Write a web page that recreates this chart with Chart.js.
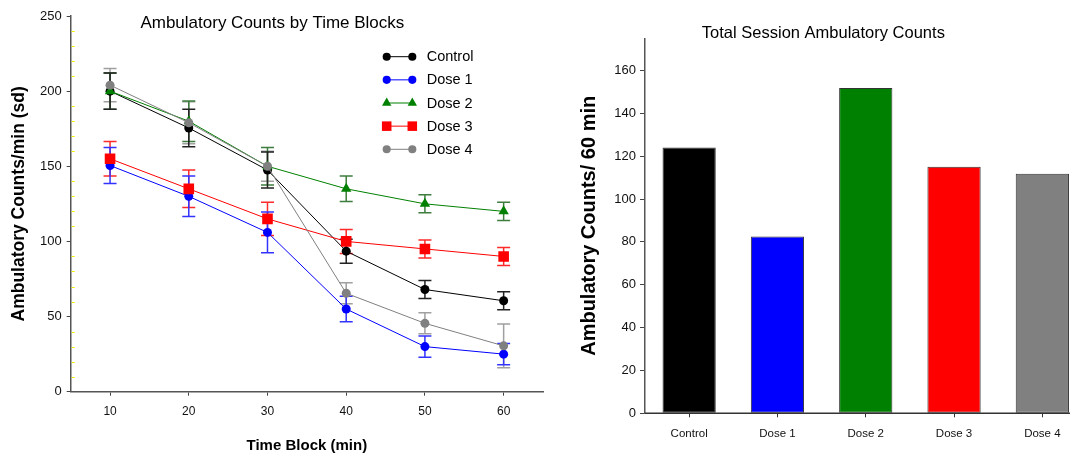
<!DOCTYPE html>
<html>
<head>
<meta charset="utf-8">
<script src="https://cdn.jsdelivr.net/npm/chart.js@4.4.0/dist/chart.umd.min.js"></script>
<style>
html, body { margin: 0; padding: 0; background: #fff; overflow: hidden; }
#wrap { position: relative; width: 1076px; height: 458px; overflow: hidden; }
#time-chart { position: absolute; left: 0; top: 0; }
#total-chart { position: absolute; left: 560px; top: 0; }
</style>
</head>
<body>
<div id="wrap">
  <canvas id="time-chart" width="560" height="458"></canvas>
  <canvas id="total-chart" width="560" height="458"></canvas>
</div>
<script>
// data
const timeBlocks = [10, 20, 30, 40, 50, 60]
const groups = ['Control', 'Dose 1', 'Dose 2', 'Dose 3', 'Dose 4']

const controlMeans = [200, 175.5, 147.5, 93.5, 68, 60.5]
const controlSd = [12, 12.5, 12, 8, 6, 6]
const dose1Means = [150.5, 130, 106, 55, 30, 25]
const dose1Sd = [12, 13.5, 13.5, 8.5, 7, 7]
const dose2Means = [200, 180, 150, 135, 125, 120]
const dose2Sd = [12, 13.5, 12.5, 8.5, 6, 6]
const dose3Means = [155, 135, 115, 100, 95, 90]
const dose3Sd = [11.5, 12.5, 11, 8, 6, 6]
const dose4Means = [204, 179, 150, 65.5, 45.5, 30.5]
const dose4Sd = [11, 14, 10, 7, 7, 14.5]

const sessionTotals = [124, 82.5, 151.8, 115, 111.8]

const timeYTicks = [0, 50, 100, 150, 200, 250]
const totalYTicks = [0, 20, 40, 60, 80, 100, 120, 140, 160]

const groupColors = ['#000000', '#0000ff', '#008000', '#ff0000', '#808080']
const groupErrColors = ['#222222', '#3333ff', '#3d7d3d', '#ff2a2a', '#a0a0a0']
const groupMarkers = ['circle', 'circle', 'triangle', 'rect', 'circle']
const groupRadius = [4.5, 4.5, 6, 7.5, 4.5]

Chart.defaults.font.family = '"Liberation Sans", Arial, sans-serif'
Chart.defaults.color = '#111'

const allMeans = [controlMeans, dose1Means, dose2Means, dose3Means, dose4Means]
const allSd = [controlSd, dose1Sd, dose2Sd, dose3Sd, dose4Sd]

// error bars, drawn under the lines
const errorBars = {
    id: 'errorBars',
    beforeDatasetsDraw(chart) {
        const ctx = chart.ctx
        const xs = chart.scales.x, ys = chart.scales.y
        chart.data.datasets.slice().reverse().forEach(ds => {
            ctx.save()
            ctx.strokeStyle = ds.errorColor
            ctx.lineWidth = 1.5
            ds.data.forEach((p, i) => {
                const x = xs.getPixelForValue(p.x)
                const top = ys.getPixelForValue(p.y + ds.sd[i])
                const bot = ys.getPixelForValue(p.y - ds.sd[i])
                ctx.beginPath()
                ctx.moveTo(x, top); ctx.lineTo(x, bot)
                ctx.moveTo(x - 6.5, top); ctx.lineTo(x + 6.5, top)
                ctx.moveTo(x - 6.5, bot); ctx.lineTo(x + 6.5, bot)
                ctx.stroke()
            })
            ctx.restore()
        })
    }
}

// small yellow minor ticks on the inside of the y axis
const minorTicks = {
    id: 'minorTicks',
    afterDraw(chart) {
        const ctx = chart.ctx
        const ys = chart.scales.y
        const x = chart.chartArea.left
        ctx.save()
        ctx.strokeStyle = '#f0f000'
        ctx.lineWidth = 1
        for (let v = 10; v < ys.max; v += 10) {
            if (v % 50 === 0) continue
            const y = Math.round(ys.getPixelForValue(v)) + 0.5
            ctx.beginPath()
            ctx.moveTo(x + 1, y); ctx.lineTo(x + 4, y)
            ctx.stroke()
        }
        ctx.restore()
    }
}

// title drawn over the plot area, like the original
const innerTitle = {
    id: 'innerTitle',
    afterDraw(chart, args, opts) {
        const ctx = chart.ctx
        const a = chart.chartArea
        ctx.save()
        ctx.font = opts.size + 'px "Liberation Sans", Arial, sans-serif'
        ctx.fillStyle = '#000'
        ctx.textAlign = 'center'
        ctx.textBaseline = 'middle'
        ctx.fillText(opts.text, a.left + (a.right - a.left) * opts.fx, opts.y)
        ctx.restore()
    }
}

// legend with a line between two markers
const lineLegend = {
    id: 'lineLegend',
    afterDraw(chart) {
        const ctx = chart.ctx
        const x0 = 386.7, x1 = 412.3, tx = 426.7, y0 = 56.7, step = 23.15
        const order = chart.data.datasets.slice().sort((a, b) => a.idx - b.idx)
        ctx.save()
        order.forEach((ds, i) => {
            const y = y0 + i * step
            ctx.strokeStyle = ds.borderColor
            ctx.lineWidth = 1
            ctx.beginPath()
            ctx.moveTo(x0, y); ctx.lineTo(x1, y)
            ctx.stroke()
            ctx.fillStyle = ds.pointBackgroundColor
            ctx.strokeStyle = ds.pointBorderColor
            const r = ds.pointRadius * 0.9
            Chart.helpers.drawPoint(ctx, { pointStyle: ds.pointStyle, radius: r, rotation: 0, borderWidth: 0 }, x0, y)
            Chart.helpers.drawPoint(ctx, { pointStyle: ds.pointStyle, radius: r, rotation: 0, borderWidth: 0 }, x1, y)
            ctx.fillStyle = '#000'
            ctx.font = '14.5px "Liberation Sans", Arial, sans-serif'
            ctx.textAlign = 'left'
            ctx.textBaseline = 'middle'
            ctx.fillText(ds.label, tx, y + 0.5)
        })
        ctx.restore()
    }
}

// bar chart x axis line stops at the right edge of the last bar
const barBaseline = {
    id: 'barBaseline',
    afterDatasetsDraw(chart) {
        const ctx = chart.ctx
        const bars = chart.getDatasetMeta(0).data
        const last = bars[bars.length - 1]
        const y = chart.scales.y.getPixelForValue(0)
        ctx.save()
        ctx.strokeStyle = '#333'
        ctx.lineWidth = 1.5
        ctx.beginPath()
        ctx.moveTo(chart.chartArea.left, y)
        ctx.lineTo(last.x + last.width / 2 + 1, y)
        ctx.stroke()
        ctx.restore()
    }
}

const timeDatasets = groups.map((g, i) => ({
    label: g,
    idx: i,
    order: groups.length - i,
    data: timeBlocks.map((t, j) => ({ x: t, y: allMeans[i][j] })),
    sd: allSd[i],
    errorColor: groupErrColors[i],
    borderColor: groupColors[i],
    borderWidth: 1,
    pointStyle: groupMarkers[i],
    pointRadius: groupRadius[i],
    pointBackgroundColor: groupColors[i],
    pointBorderColor: groupColors[i],
    pointBorderWidth: 0,
    tension: 0,
    fill: false
}))

new Chart(document.getElementById('time-chart'), {
    type: 'line',
    data: { datasets: timeDatasets },
    options: {
        responsive: false,
        animation: false,
        devicePixelRatio: 1,
        layout: { padding: { left: 0, top: 16, right: 17, bottom: 0 } },
        plugins: {
            legend: { display: false },
            tooltip: { enabled: false },
            innerTitle: { text: 'Ambulatory Counts by Time Blocks', size: 17, fx: 0.427, y: 23.4 }
        },
        scales: {
            x: {
                type: 'linear',
                min: 5,
                max: 65,
                afterBuildTicks: s => { s.ticks = timeBlocks.map(v => ({ value: v })) },
                afterFit: s => { s.height = 66.3 },
                grid: { drawOnChartArea: false, tickLength: 4, color: '#444' },
                border: { color: '#555', width: 1.5 },
                ticks: { padding: 9, color: '#111', font: { size: 12 } },
                title: { display: true, text: 'Time Block (min)', color: '#000', font: { size: 15, weight: 'bold' }, padding: { top: 0, bottom: 3 } }
            },
            y: {
                min: 0,
                max: 250,
                afterBuildTicks: s => { s.ticks = timeYTicks.map(v => ({ value: v })) },
                afterFit: s => { s.width = 70.7 },
                grid: { drawOnChartArea: false, tickLength: 4, color: '#444' },
                border: { color: '#555', width: 1.5 },
                ticks: { padding: 5, color: '#111', font: { size: 13 } },
                title: { display: true, text: 'Ambulatory Counts/min (sd)', color: '#000', font: { size: 17.5, weight: 'bold' }, padding: { top: 8.5, bottom: 0 } }
            }
        }
    },
    plugins: [errorBars, minorTicks, innerTitle, lineLegend]
})

new Chart(document.getElementById('total-chart'), {
    type: 'bar',
    data: {
        labels: groups,
        datasets: [{
            label: 'Total Session Ambulatory Counts',
            data: sessionTotals,
            backgroundColor: groupColors,
            borderColor: '#333',
            borderWidth: 1,
            borderSkipped: false,
            categoryPercentage: 1,
            barPercentage: 0.603
        }]
    },
    options: {
        responsive: false,
        animation: false,
        devicePixelRatio: 1,
        layout: { padding: { left: 0, top: 38.3, right: 33.5, bottom: 0 } },
        plugins: {
            legend: { display: false },
            tooltip: { enabled: false },
            innerTitle: { text: 'Total Session Ambulatory Counts', size: 16.5, fx: 0.404, y: 33.3 }
        },
        scales: {
            x: {
                afterFit: s => { s.height = 44.7 },
                grid: { drawOnChartArea: false, offset: false, tickLength: 4, color: '#333' },
                border: { display: false },
                ticks: { padding: 10, color: '#111', font: { size: 11.5 } }
            },
            y: {
                min: 0,
                max: 175,
                afterBuildTicks: s => { s.ticks = totalYTicks.map(v => ({ value: v })) },
                afterFit: s => { s.width = 85 },
                grid: { drawOnChartArea: false, tickLength: 5, color: '#444' },
                border: { color: '#555', width: 1.5 },
                ticks: { padding: 4, color: '#111', font: { size: 13 } },
                title: { display: true, text: 'Ambulatory Counts/ 60 min', color: '#000', font: { size: 20, weight: 'bold' }, padding: { top: 17.3, bottom: 0 } }
            }
        }
    },
    plugins: [innerTitle, barBaseline]
})
</script>
</body>
</html>
